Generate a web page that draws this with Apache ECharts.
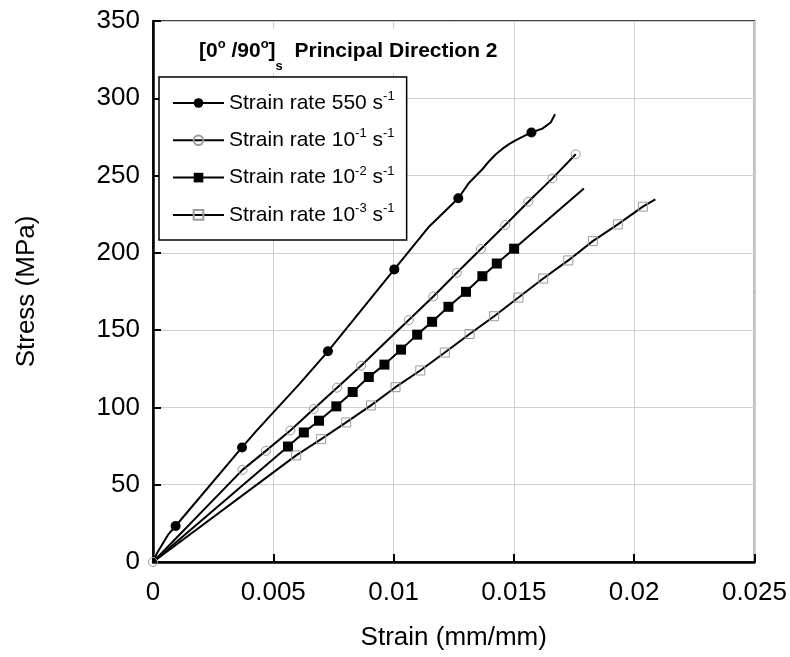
<!DOCTYPE html>
<html>
<head>
<meta charset="utf-8">
<title>Stress-strain curves</title>
<script src="https://cdn.jsdelivr.net/npm/echarts@6/dist/echarts.min.js"></script>
<style>
  html, body { margin: 0; padding: 0; background: #fff; }
  #chart { width: 790px; height: 657px; }
</style>
</head>
<body>
<div id="chart"></div>
<script>
// Axis ranges and tick steps
const strainRange = [0, 0.025, 0.005];
const stressRange = [0, 350, 50];

// Series names (superscripts are added by the legend formatter)
const seriesNames = [
  'Strain rate 550 s-1',
  'Strain rate 10-1 s-1',
  'Strain rate 10-2 s-1',
  'Strain rate 10-3 s-1'
];

// Strain rate 550 s^-1 : curve points and marked points [strain, stress MPa]
const rate550Curve = [
  [0, 0], [0.00017, 5.8], [0.00037, 11.0], [0.00062, 17.5],
  [0.00427, 84.3], [0.00485, 94.2], [0.0061, 115.4], [0.01148, 217.1],
  [0.01314, 245.4], [0.01369, 254.1], [0.01397, 259.3], [0.01425, 263.8],
  [0.01453, 267.4], [0.0148, 270.3], [0.01505, 272.6], [0.01529, 274.6],
  [0.01618, 280.4], [0.01653, 284.3], [0.01671, 289.7]
];
const rate550Marks = [
  [0.00094, 23.3], [0.0037, 74.1], [0.00727, 136.3], [0.01003, 189.3],
  [0.01269, 235.3], [0.01573, 277.9]
];

// Strain rate 10^-1 s^-1
const rate1Curve = [
  [0.00964, 141.8]
];
const rate1Marks = [
  [0, 0], [0.00372, 59.6], [0.00469, 71.9], [0.00571, 85.1], [0.00668, 99.0],
  [0.00765, 112.8], [0.00865, 127.0], [0.01063, 156.5], [0.01165, 171.8],
  [0.01263, 187.1], [0.01363, 202.5], [0.01464, 218.0], [0.0156, 233.1],
  [0.0166, 248.2], [0.01757, 263.8]
];

// Strain rate 10^-2 s^-1
const rate2Curve = [
  [0, 0], [0.01791, 241.6]
];
const rate2Marks = [
  [0.00561, 74.7], [0.00627, 83.8], [0.0069, 91.4], [0.00762, 100.7],
  [0.0083, 110.0], [0.00897, 119.7], [0.00962, 127.7], [0.01031, 137.4],
  [0.01098, 147.1], [0.0116, 155.4], [0.01228, 165.1], [0.01301, 174.8],
  [0.01369, 184.9], [0.01429, 193.1], [0.01501, 202.7]
];

// Strain rate 10^-3 s^-1
const rate3Curve = [
  [0, 0], [0.02088, 234.6]
];
const rate3Marks = [
  [0.00595, 69.0], [0.00699, 79.5], [0.00803, 90.3], [0.00906, 101.3],
  [0.01008, 113.1], [0.01111, 123.9], [0.01213, 135.5], [0.01316, 147.5],
  [0.01418, 159.0], [0.01519, 171.1], [0.01622, 183.4], [0.01726, 195.1],
  [0.01828, 207.6], [0.01932, 218.4], [0.02036, 229.9]
];

const FONT = '"Liberation Sans", Arial, sans-serif';

// Merge plain curve points (no symbol) with marked points, ordered by strain
function buildData(curve, marks) {
  const pts = curve.map(p => ({ value: p, symbol: 'none' }))
    .concat(marks.map(p => ({ value: p })));
  pts.sort((a, b) => a.value[0] - b.value[0]);
  return pts;
}

const styles = [
  { symbol: 'circle', size: 10, fill: '#000', border: '#000', bw: 0 },
  { symbol: 'circle', size: 9, fill: 'rgba(0,0,0,0)', border: '#9a9a9a', bw: 1 },
  { symbol: 'rect', size: 10, fill: '#000', border: '#000', bw: 0 },
  { symbol: 'rect', size: 9, fill: 'rgba(0,0,0,0)', border: '#9a9a9a', bw: 1 }
];
const curves = [rate550Curve, rate1Curve, rate2Curve, rate3Curve];
const marks = [rate550Marks, rate1Marks, rate2Marks, rate3Marks];

const series = seriesNames.map((name, i) => ({
  name: name,
  type: 'line',
  data: buildData(curves[i], marks[i]),
  smooth: false,
  showSymbol: true,
  symbol: styles[i].symbol,
  symbolSize: styles[i].size,
  lineStyle: { color: '#000', width: 2, join: 'round' },
  itemStyle: { color: styles[i].fill, borderColor: styles[i].border, borderWidth: styles[i].bw },
  emphasis: { disabled: true },
  animation: false,
  z: 3
}));

const legendText = {
  'Strain rate 550 s-1': 'Strain rate 550 s{sup|-1}',
  'Strain rate 10-1 s-1': 'Strain rate 10{sup|-1} s{sup|-1}',
  'Strain rate 10-2 s-1': 'Strain rate 10{sup|-2} s{sup|-1}',
  'Strain rate 10-3 s-1': 'Strain rate 10{sup|-3} s{sup|-1}'
};

const chart = echarts.init(document.getElementById('chart'), null, { renderer: 'canvas' });
chart.setOption({
  backgroundColor: '#fff',
  animation: false,
  textStyle: { fontFamily: FONT, color: '#000' },
  title: {
    left: 195,
    top: 29,
    padding: [0, 4, 0, 4],
    backgroundColor: '#fff',
    text: '[0{sup|o} /90{sup|o}]{sub|s}  Principal Direction 2',
    textStyle: {
      fontFamily: FONT, fontSize: 21, fontWeight: 'bold', color: '#000', lineHeight: 44,
      rich: {
        sup: { fontFamily: FONT, fontSize: 13, fontWeight: 'bold', color: '#000', verticalAlign: 'top', padding: [9, 0, 0, 0] },
        sub: { fontFamily: FONT, fontSize: 13, fontWeight: 'bold', color: '#000', verticalAlign: 'bottom' }
      }
    }
  },
  legend: {
    orient: 'vertical',
    left: 159,
    top: 77,
    padding: [13, 12, 12, 13],
    itemGap: 11.3,
    itemWidth: 51,
    itemHeight: 12,
    backgroundColor: '#fff',
    borderColor: '#000',
    borderWidth: 1.5,
    selectedMode: false,
    data: seriesNames,
    formatter: name => legendText[name],
    textStyle: {
      fontFamily: FONT, fontSize: 21, color: '#000', lineHeight: 26,
      rich: {
        sup: { fontFamily: FONT, fontSize: 13, color: '#000', verticalAlign: 'top', lineHeight: 14 }
      }
    }
  },
  grid: {
    left: 153, right: 34, top: 21, bottom: 95,
    show: true, borderColor: '#000', borderWidth: 1.5, backgroundColor: 'transparent'
  },
  xAxis: {
    type: 'value',
    min: strainRange[0], max: strainRange[1], interval: strainRange[2],
    name: 'Strain (mm/mm)',
    nameLocation: 'middle',
    nameGap: 63,
    nameTextStyle: { fontFamily: FONT, fontSize: 26, color: '#000' },
    axisLine: { show: true, onZero: false, lineStyle: { color: '#000', width: 2.5 } },
    axisTick: { show: true, inside: true, length: 8, lineStyle: { color: '#000', width: 2 } },
    axisLabel: { fontFamily: FONT, fontSize: 26, color: '#000', margin: 18 },
    splitLine: { show: true, lineStyle: { color: '#cfcfcf', width: 1 } }
  },
  yAxis: {
    type: 'value',
    min: stressRange[0], max: stressRange[1], interval: stressRange[2],
    name: 'Stress (MPa)',
    nameLocation: 'middle',
    nameGap: 113,
    nameTextStyle: { fontFamily: FONT, fontSize: 26, color: '#000' },
    axisLine: { show: true, onZero: false, lineStyle: { color: '#000', width: 2.5 } },
    axisTick: { show: true, inside: true, length: 8, lineStyle: { color: '#000', width: 2 } },
    axisLabel: { fontFamily: FONT, fontSize: 26, color: '#000', margin: 13 },
    splitLine: { show: true, lineStyle: { color: '#cfcfcf', width: 1 } }
  },
  series: series
});
</script>
</body>
</html>
